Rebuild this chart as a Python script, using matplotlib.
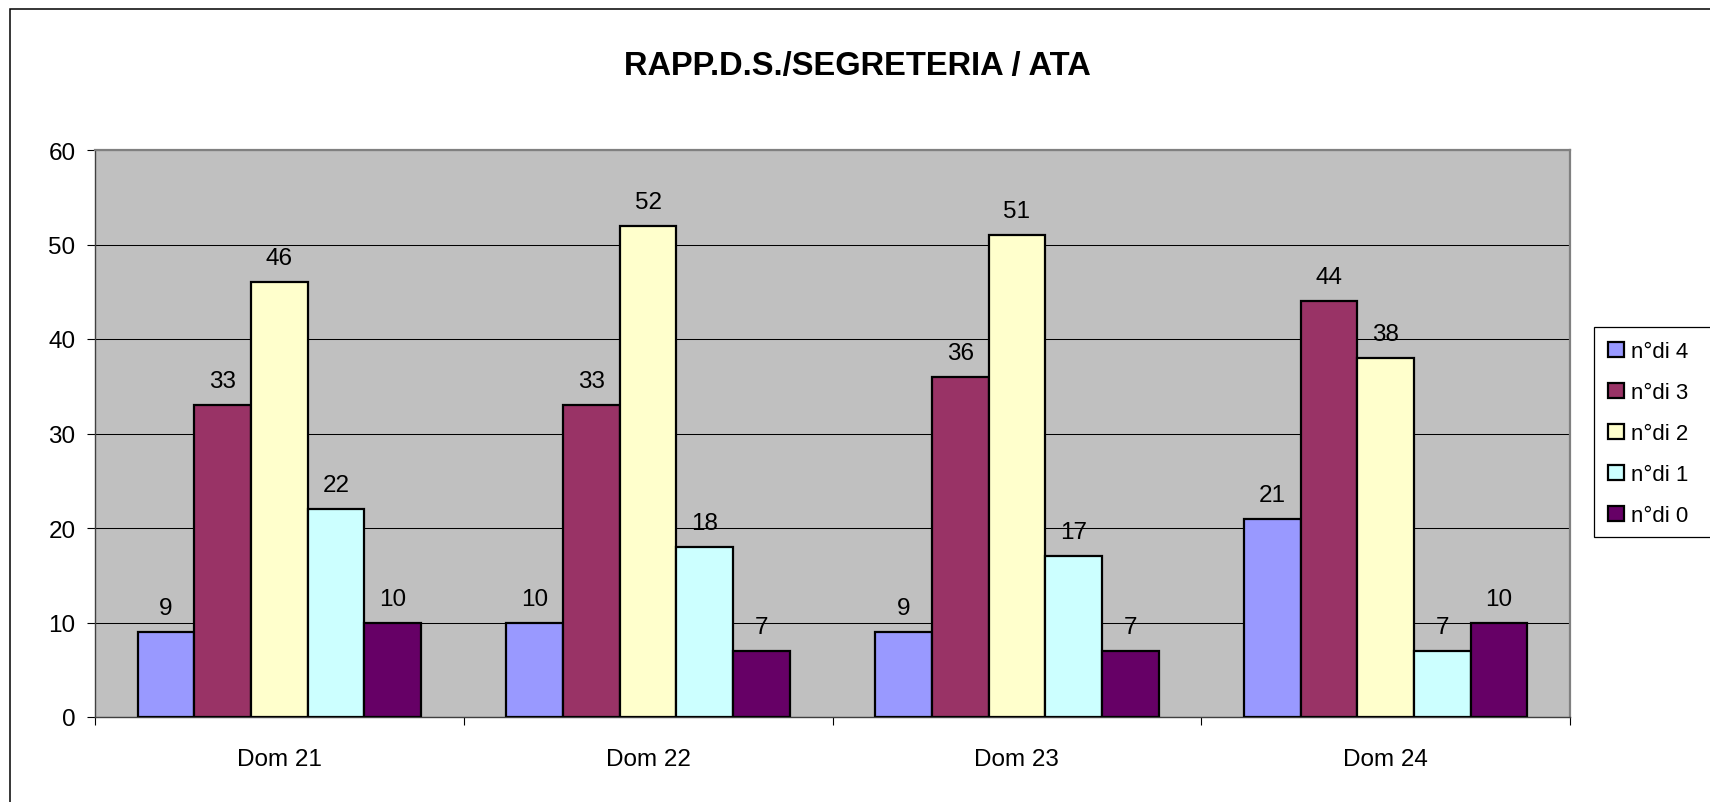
import matplotlib
matplotlib.use("Agg")
import matplotlib.pyplot as plt
from matplotlib.patches import Rectangle, Patch
import numpy as np

plt.rcParams['font.family'] = ['Liberation Sans', 'DejaVu Sans']

categories = ["Dom 21", "Dom 22", "Dom 23", "Dom 24"]
series_names = ["n°di 4", "n°di 3", "n°di 2", "n°di 1", "n°di 0"]
s4 = [9, 10, 9, 21]
s3 = [33, 33, 36, 44]
s2 = [46, 52, 51, 38]
s1 = [22, 18, 17, 7]
s0 = [10, 7, 7, 10]
series_values = [s4, s3, s2, s1, s0]
colors = ["#9999FF", "#993366", "#FFFFCC", "#CCFFFF", "#660066"]
title = "RAPP.D.S./SEGRETERIA / ATA"
yticks = [0, 10, 20, 30, 40, 50, 60]

W, H = 1710, 803
fig = plt.figure(figsize=(W / 100, H / 100), dpi=100)

# outer chart frame
fig.patches.append(Rectangle((10 / W, -0.05), 1.1, 1 - 10 / H + 0.05, transform=fig.transFigure,
                             fill=False, edgecolor='black', linewidth=1.1))

left, right, top, bottom = 95, 1570, 151, 718
ax = fig.add_axes([left / W, 1 - bottom / H, (right - left) / W, (bottom - top) / H])
ax.set_facecolor('#C0C0C0')

FS = 17.5
n = len(series_values)
w = 1 / 6.5
x = np.arange(len(categories))
for i, (vals, c) in enumerate(zip(series_values, colors)):
    xs = x + (i - (n - 1) / 2) * w
    ax.bar(xs, vals, width=w, color=c, edgecolor='black', linewidth=1.6, zorder=3,
           label=series_names[i])
    for xi, v in zip(xs, vals):
        ax.annotate(str(v), (xi, v), xytext=(0, 18), textcoords='offset pixels',
                    ha='center', va='baseline', fontsize=FS, zorder=4)

ax.set_xlim(-0.5, len(categories) - 0.5)
ax.set_ylim(0, 60)
ax.set_yticks(yticks)
ax.set_yticklabels([str(t) for t in yticks])
ax.yaxis.grid(True, color='black', linewidth=0.75, zorder=0)
ax.set_axisbelow(True)

ax.set_xticks(np.arange(len(categories) + 1) - 0.5)
ax.set_xticklabels([])
ax.set_xticks(x, minor=True)
ax.set_xticklabels(categories, minor=True)
ax.tick_params(axis='x', which='major', direction='out', length=6, width=0.8, color='black')
ax.tick_params(axis='x', which='minor', length=0, pad=22, labelsize=FS)
ax.tick_params(axis='y', direction='out', length=6, width=0.8, pad=8, labelsize=FS)

for s in ['top', 'right']:
    ax.spines[s].set_color('#808080')
    ax.spines[s].set_linewidth(1.6)
for s in ['left', 'bottom']:
    ax.spines[s].set_color('#404040')
    ax.spines[s].set_linewidth(1.0)

fig.text(857.5 / W, 1 - 75 / H, title, ha='center', va='baseline', fontsize=23.5, fontweight='bold')

# legend frame
fig.patches.append(Rectangle((1594 / W, 1 - 538 / H), 0.2, (538 - 328) / H, transform=fig.transFigure,
                             fill=True, facecolor='white', edgecolor='black', linewidth=0.9, zorder=1))
handles = [Patch(facecolor=c, edgecolor='black', linewidth=1.6) for c in colors]
leg = fig.legend(handles, series_names, loc='upper left', bbox_to_anchor=(1608 / W, 1 - 342 / H),
                 frameon=False, fontsize=16, handlelength=0.72, handleheight=0.68,
                 handletextpad=0.3, labelspacing=0.9, borderaxespad=0, borderpad=0)

fig.savefig("out.png", dpi=100)
